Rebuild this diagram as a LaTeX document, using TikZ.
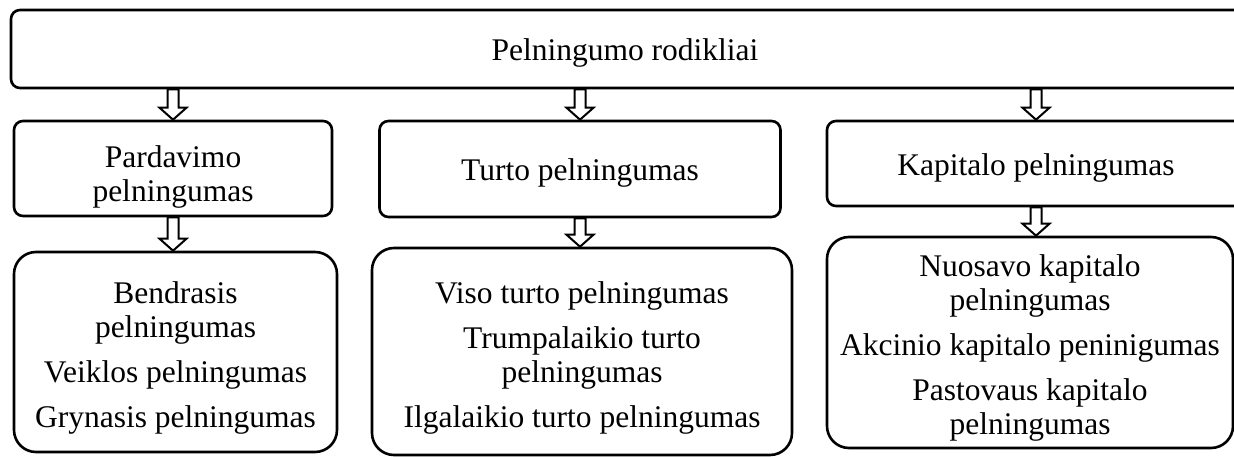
\documentclass[tikz,border=0pt]{standalone}
\usepackage{fontspec}
\setmainfont{Liberation Serif}
\usetikzlibrary{calc}

\tikzset{
  box/.style={draw, line width=2.6pt, rounded corners=9pt, inner sep=0pt},
  bigbox/.style={box, rounded corners=22pt},
  txt/.style={inner sep=0pt, align=center, font=\fontsize{31.5}{34}\selectfont},
  hollow/.style={draw, line width=2pt, fill=white, line join=miter},
}

% hollow block arrow from #1 down to #2, placed at the x of #1
\newcommand\blockarrow[2]{%
  \draw[hollow] let \p1=#1, \p2=#2 in
    (\x1-5.5pt,\y1) -- (\x1-5.5pt,\y2+12pt) -- (\x1-13.5pt,\y2+12pt)
    -- (\x1,\y2) -- (\x1+13.5pt,\y2+12pt) -- (\x1+5.5pt,\y2+12pt)
    -- (\x1+5.5pt,\y1) -- cycle;}

\begin{document}
\begin{tikzpicture}[x=1pt, y=-1pt]
  \useasboundingbox (0,0) rectangle (1234,457);

  % top level
  \node[box, minimum width=1234pt, minimum height=78pt] (top) at (628,49) {};

  % second level
  \node[box, minimum width=318pt, minimum height=95pt] (pard) at (173,168.5) {};
  \node[box, minimum width=401pt, minimum height=96pt] (turto) at (580,169) {};
  \node[box, minimum width=418pt, minimum height=85pt] (kap) at (1036,163.5) {};

  % third level
  \node[bigbox, minimum width=323pt, minimum height=200pt] (pardlist) at (175.5,352) {};
  \node[bigbox, minimum width=420pt, minimum height=207pt] (turtolist) at (582,351.5) {};
  \node[bigbox, minimum width=406pt, minimum height=211pt] (kaplist) at (1030,342.5) {};

  % texts
  \node[txt] (toptxt) at ($(top.center)+(-3,4)$) {Pelningumo rodikliai};
  \node[txt] (pardtxt) at ($(pard.center)+(0,8)$) {Pardavimo\\pelningumas};
  \node[txt] (turtotxt) at ($(turto.center)+(0,4)$) {Turto pelningumas};
  \node[txt] (kaptxt) at ($(kap.center)+(0,4)$) {Kapitalo pelningumas};
  \node[txt] (pardlisttxt) at ($(pardlist.center)+(0,6)$)
    {Bendrasis\\pelningumas\\[11pt]Veiklos pelningumas\\[11pt]Grynasis pelningumas};
  \node[txt] (turtolisttxt) at ($(turtolist.center)+(0,6)$)
    {Viso turto pelningumas\\[11pt]Trumpalaikio turto\\pelningumas\\[11pt]Ilgalaikio turto pelningumas};
  \node[txt] (kaplisttxt) at ($(kaplist.center)+(0,5)$)
    {Nuosavo kapitalo\\pelningumas\\[11pt]Akcinio kapitalo peninigumas\\[11pt]Pastovaus kapitalo\\pelningumas};

  % connectors
  \blockarrow{(top.south -| pard.north)}{(pard.north)}
  \blockarrow{(top.south -| turto.north)}{(turto.north)}
  \blockarrow{(top.south -| kap.north)}{(kap.north)}
  \blockarrow{(pard.south)}{(pardlist.north)}
  \blockarrow{(turto.south)}{(turtolist.north)}
  \blockarrow{(kap.south)}{(kaplist.north -| kap.south)}
\end{tikzpicture}
\end{document}
